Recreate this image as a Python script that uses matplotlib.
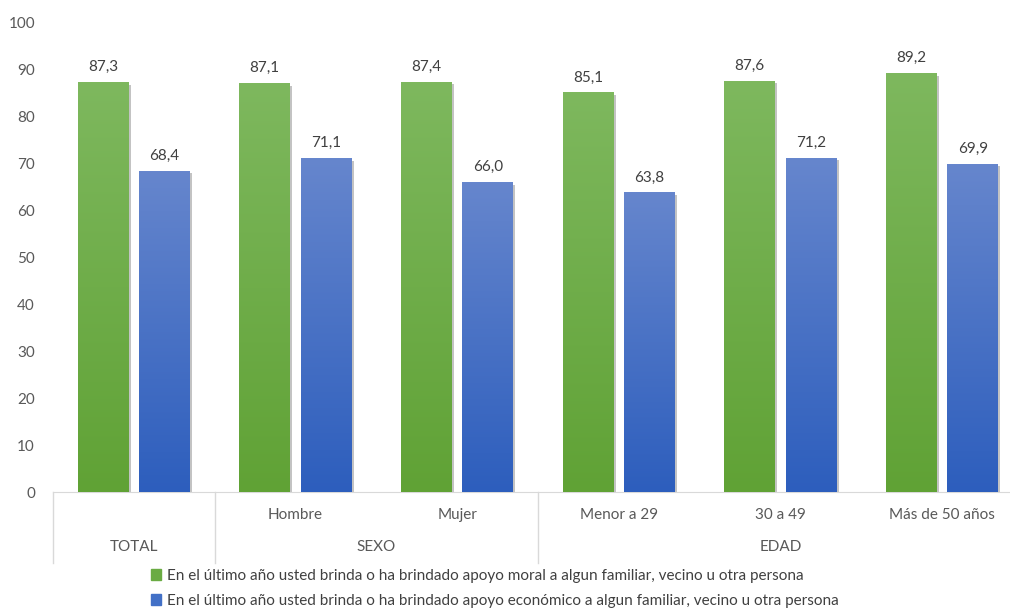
import matplotlib.pyplot as plt
import matplotlib.patheffects as pe
from matplotlib.colors import LinearSegmentedColormap
from matplotlib.patches import Patch
import numpy as np

categorias = ["", "Hombre", "Mujer", "Menor a 29", "30 a 49", "Más de 50 años"]
grupos = ["TOTAL", "SEXO", "EDAD"]
grupo_centros = [0, 1.5, 4]
separadores = [-0.5, 0.5, 2.5]
apoyo_moral = [87.3, 87.1, 87.4, 85.1, 87.6, 89.2]
apoyo_economico = [68.4, 71.1, 66.0, 63.8, 71.2, 69.9]
leyenda = ["En el último año usted brinda o ha brindado apoyo moral a algun familiar, vecino u otra persona",
           "En el último año usted brinda o ha brindado apoyo económico a algun familiar, vecino u otra persona"]

plt.rcParams['font.family'] = ['Lato', 'DejaVu Sans']
gris = '#595959'

fig = plt.figure(figsize=(10.1, 6.09), dpi=100)
ax = fig.add_axes([53/1010, 1-492/609, 970/1010, 469/609])

verde = LinearSegmentedColormap.from_list('verde', ['#60a235', '#7eb85e'])
azul = LinearSegmentedColormap.from_list('azul', ['#2d5ebd', '#6686cd'])
grad = np.linspace(0, 1, 256).reshape(-1, 1)

x = np.arange(len(categorias))
w = 0.315
off = 0.19
sombra = [pe.SimplePatchShadow(offset=(1.5, -1.5), alpha=0.35, shadow_rgbFace='#555555'), pe.Normal()]
for serie, dx, cmap in [(apoyo_moral, -off, verde), (apoyo_economico, off, azul)]:
    bars = ax.bar(x + dx, serie, width=w, color='none', zorder=2, path_effects=sombra,
                  edgecolor='none')
    for b, v in zip(bars, serie):
        x0 = b.get_x()
        ax.imshow(grad, cmap=cmap, origin='lower', aspect='auto',
                  extent=[x0, x0 + w, 0, v], zorder=3)
        ax.annotate(f"{v:.1f}".replace('.', ','), (x0 + w/2, v), xytext=(0, 6),
                    textcoords='offset points', ha='center', va='bottom',
                    fontsize=11, color='#404040')

ax.set_xlim(-0.5, 5.5)
ax.set_ylim(0, 100)
ax.set_yticks(range(0, 101, 10))
ax.tick_params(axis='y', length=0, pad=13, labelsize=11, labelcolor=gris)
ax.set_xticks([])
for s in ['top', 'right', 'left']:
    ax.spines[s].set_visible(False)
ax.spines['bottom'].set_color('#d9d9d9')

trans = ax.get_xaxis_transform()
for i, c in enumerate(categorias):
    ax.text(i, -0.049, c, transform=trans, ha='center', va='center', fontsize=11, color=gris)
for g, cx in zip(grupos, grupo_centros):
    ax.text(cx, -0.117, g, transform=trans, ha='center', va='center', fontsize=11, color=gris)
for s in separadores:
    ax.plot([s, s], [0, -0.151], transform=trans, color='#d9d9d9', lw=1, clip_on=False)

handles = [Patch(color='#6aab43'), Patch(color='#4270c6')]
fig.legend(handles, leyenda, loc='upper left', bbox_to_anchor=(143/1010, 1-561/609),
           frameon=False, fontsize=11, handlelength=0.7, handleheight=0.7,
           handletextpad=0.4, labelspacing=0.75, labelcolor='#404040', borderpad=0)

fig.savefig('out.png', dpi=100)
